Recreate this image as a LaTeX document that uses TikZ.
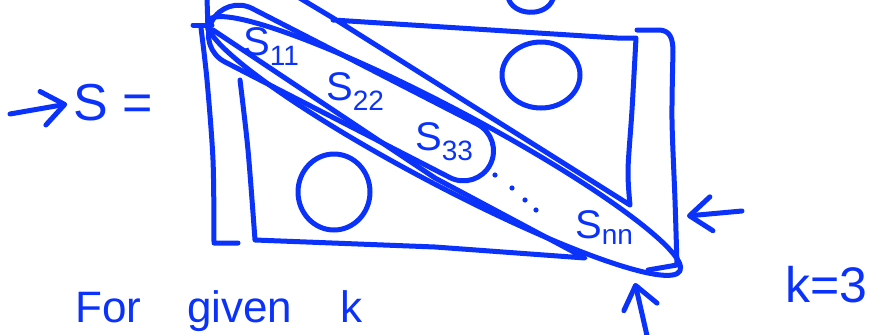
\documentclass[tikz,border=0pt]{standalone}
\usepackage{fontspec}
\setmainfont{Liberation Sans}
\usetikzlibrary{arrows.meta, shapes.geometric, shapes.misc}
\definecolor{colInk}{RGB}{10,50,250}
\tikzset{
    ink/.style={draw=colInk, line width=5pt, line cap=round, line join=round},
    pointer/.style={ink, -{Straight Barb[length=22pt, width=34pt, line width=0pt 1, round]}},
    lbl/.style={text=colInk, inner sep=0pt},
    entry/.style={lbl, anchor=base west, font=\fontsize{40}{40}\selectfont},
    band/.style={ink, inner sep=0pt}
}

\begin{document}
\begin{tikzpicture}[x=1pt, y=-1pt]
    \useasboundingbox (0,0) rectangle (871,335);

    % S = and the pointer on the left
    \node[lbl, font=\fontsize{52}{52}\selectfont] (lblS) at (113,103) {S =};
    \coordinate (ptrL) at (10,114);
    \draw[pointer, shorten >=6pt] (ptrL) -- (lblS.west);

    % brackets and the two triangles
    \draw[ink] (207,-2) -- (208,30);
    \draw[ink] (193,25) -- (212,25);
    \draw[ink] plot[smooth] coordinates {(201,28) (207,80) (213,160) (214,243)} -- (238,243);
    \draw[ink] (213,30) -- (435,178) -- (585,258) -- (435,247) -- (255,240)
        plot[smooth] coordinates {(255,240) (248,150) (240,80)};
    \draw[ink] (298,-3) -- (333,18) -- (630,205)
        plot[smooth] coordinates {(630,205) (628,170) (632,110) (636,38)} -- (617,38) -- (333,20);
    \draw[ink] (637,30) -- (660,30) .. controls (670,31) and (673,38) .. (673,52)
        plot[smooth] coordinates {(673,52) (672,120) (675,200) (677,265)} -- (648,270);

    % zero blocks
    \draw[ink] (541,75) ellipse [x radius=39pt, y radius=33pt];
    \draw[ink] (334,192) ellipse [x radius=36pt, y radius=38pt];

    % diagonal groups
    \node[band, ellipse, draw, rotate=-27.9, minimum width=534pt, minimum height=76pt] (bandAll) at (444,146) {};
    \node[band, rounded rectangle, draw, rotate=-27.2, minimum width=313pt, minimum height=60pt] (bandK) at (351,93) {};

    % diagonal entries
    \node[entry] (s11) at (243,55) {S\textsubscript{11}};
    \node[entry] (s22) at (326,100) {S\textsubscript{22}};
    \node[entry] (s33) at (415,150) {S\textsubscript{33}};
    \node[entry] (snn) at (575,238) {S\textsubscript{nn}};
    \foreach \p in {(495,175),(512,188),(525,200),(536,210)}
        \fill[colInk] \p circle (2.6pt);

    % pointers to the last entry
    \coordinate (ptrR) at (742,211);
    \coordinate (cornerR) at (687,216);
    \draw[pointer] (ptrR) -- (cornerR);
    \coordinate (ptrB) at (648,340);
    \coordinate (cornerB) at (635,283);
    \draw[pointer] (ptrB) -- (cornerB);

    % cut-off stroke at the top
    \draw[ink] (508,-3) .. controls (512,16) and (546,18) .. (553,-1);

    % notes below
    \node[lbl, anchor=base west, font=\fontsize{44}{44}\selectfont] (given) at (75,322) {For\hspace{46pt}given\hspace{48pt}k};
    \node[lbl, anchor=base, font=\fontsize{50}{50}\selectfont] (kval) at (826,302) {k=3};
\end{tikzpicture}
\end{document}
